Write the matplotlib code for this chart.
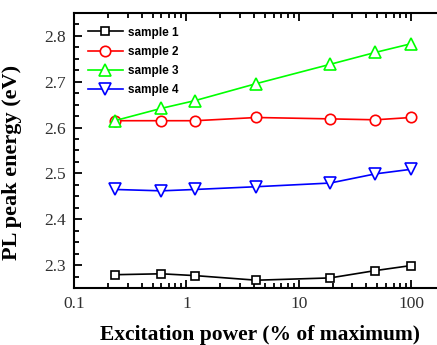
import matplotlib.pyplot as plt
from matplotlib.ticker import MultipleLocator, LogLocator, NullFormatter, FixedLocator

# excitation power (% of maximum)
power = [0.23, 0.6, 1.2, 4.2, 19, 48, 100]

# PL peak energy (eV)
sample1 = [2.279, 2.281, 2.277, 2.267, 2.272, 2.288, 2.299]
sample2 = [2.615, 2.615, 2.615, 2.622, 2.619, 2.617, 2.622]
sample3 = [2.615, 2.642, 2.659, 2.696, 2.738, 2.764, 2.783]
sample4 = [2.465, 2.462, 2.465, 2.471, 2.479, 2.499, 2.509]

labels = ['sample 1', 'sample 2', 'sample 3', 'sample 4']

fig = plt.figure(figsize=(4.37, 3.45), dpi=100)
ax = fig.add_axes([74/437, 57/345, 371/437, 275/345])

styles = [('k', 's', 5.5), ('#ff0000', 'o', 7.5), ('#00ff00', '^', 8), ('#0000ff', 'v', 8)]
for ys, lab, (c, m, ms) in zip([sample1, sample2, sample3, sample4], labels, styles):
    ax.plot(power, ys, color=c, lw=1.2, marker=m, ms=ms, mfc='white', mec=c,
            mew=1.2, label=lab)

ax.set_xscale('log')
ax.set_xlim(0.1, 200)
ax.set_ylim(2.25, 2.85)
ax.yaxis.set_major_locator(FixedLocator([2.3, 2.4, 2.5, 2.6, 2.7, 2.8]))
ax.yaxis.set_minor_locator(MultipleLocator(0.025))
ax.xaxis.set_major_locator(FixedLocator([0.1, 1, 10, 100]))
ax.xaxis.set_minor_locator(LogLocator(base=10, subs=range(2, 10)))
ax.xaxis.set_minor_formatter(NullFormatter())
ax.set_xticklabels(['0.1', '1', '10', '100'])
ax.set_yticklabels(['2.3', '2.4', '2.5', '2.6', '2.7', '2.8'])

for s in ax.spines.values():
    s.set_linewidth(1.5)
ax.tick_params(which='both', direction='in', top=True, right=True, width=1.3,
               labelsize=12.5, labelcolor='#303030', pad=6)
ax.tick_params(which='major', length=6)
ax.tick_params(which='minor', length=3.5)
for t in ax.get_xticklabels() + ax.get_yticklabels():
    t.set_family('Liberation Serif')

ax.set_xlabel('Excitation power (% of maximum)', family='Liberation Serif',
              fontweight='bold', fontsize=15.5, labelpad=9)
ax.set_ylabel('PL peak energy (eV)', family='Liberation Serif',
              fontweight='bold', fontsize=16)
ax.yaxis.set_label_coords(-0.14, 0.456)

leg = ax.legend(loc='upper left', frameon=False, handlelength=3.0,
                handletextpad=0.4, labelspacing=0.6, borderaxespad=0.75,
                prop={'family': 'Liberation Sans', 'weight': 'bold', 'size': 8.5})

fig.savefig('out.png', dpi=100)
